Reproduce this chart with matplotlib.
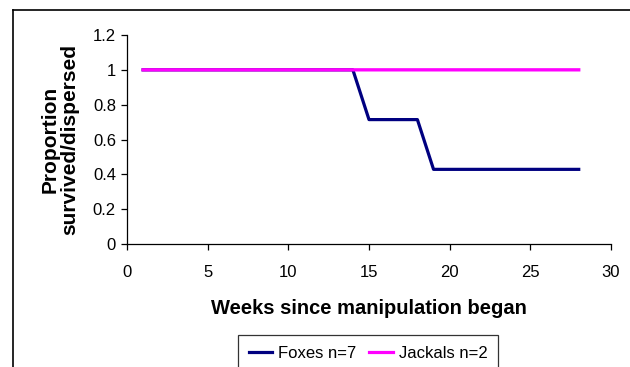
import matplotlib
matplotlib.use("Agg")
import matplotlib.pyplot as plt
from matplotlib.lines import Line2D

plt.rcParams['font.family'] = ['Liberation Sans', 'DejaVu Sans']

weeks = list(range(1, 29))
foxes = [1.0] * 14 + [5 / 7] * 4 + [3 / 7] * 10
jackals = [1.0] * 28

W, H = 630, 367
fig = plt.figure(figsize=(W / 100, H / 100), dpi=100)

# plot area in pixel coordinates
x0, x1 = 127, 611
y_top, y_bot = 35, 244
ax = fig.add_axes([x0 / W, 1 - y_bot / H, (x1 - x0) / W, (y_bot - y_top) / H])

ax.plot(weeks, foxes, color='#000080', lw=2.3, zorder=2, snap=False, label='Foxes n=7')
ax.plot(weeks, jackals, color='#FF00FF', lw=2.4, zorder=3, snap=False, label='Jackals n=2')

ax.set_xlim(0, 30)
ax.set_ylim(0, 1.2)
ax.set_xticks([0, 5, 10, 15, 20, 25, 30])
ax.set_yticks([0, 0.2, 0.4, 0.6, 0.8, 1.0, 1.2])
ax.set_yticklabels(['0', '0.2', '0.4', '0.6', '0.8', '1', '1.2'])
ax.spines['top'].set_visible(False)
ax.spines['right'].set_visible(False)
for s in ('left', 'bottom'):
    ax.spines[s].set_linewidth(0.9)
ax.tick_params(direction='out', length=4, width=0.9, labelsize=12, pad=4)
ax.tick_params(axis='x', pad=11)

ax.set_xlabel('Weeks since manipulation began', fontsize=14.5, fontweight='bold', labelpad=14)
ax.set_ylabel('Proportion\nsurvived/dispersed', fontsize=15, fontweight='bold',
              labelpad=10, linespacing=1.0)

leg = fig.legend(handles=[Line2D([], [], color='#000080', lw=2.3),
                          Line2D([], [], color='#FF00FF', lw=2.3)],
                 labels=['Foxes n=7', 'Jackals n=2'],
                 loc='upper center', bbox_to_anchor=(368 / W, 1 - 335 / H),
                 ncol=2, fontsize=12, frameon=True, fancybox=False,
                 edgecolor='black', handlelength=1.4, handletextpad=0.35,
                 columnspacing=0.8, borderpad=0.65, borderaxespad=0)
leg.get_frame().set_linewidth(0.9)

# chart-area border (top and left edges)
fig.add_artist(Line2D([13 / W, 1.0], [1 - 10 / H, 1 - 10 / H], color='black', lw=1.2))
fig.add_artist(Line2D([13 / W, 13 / W], [0, 1 - 10 / H], color='black', lw=1.2))

fig.savefig('out.png', dpi=100)
